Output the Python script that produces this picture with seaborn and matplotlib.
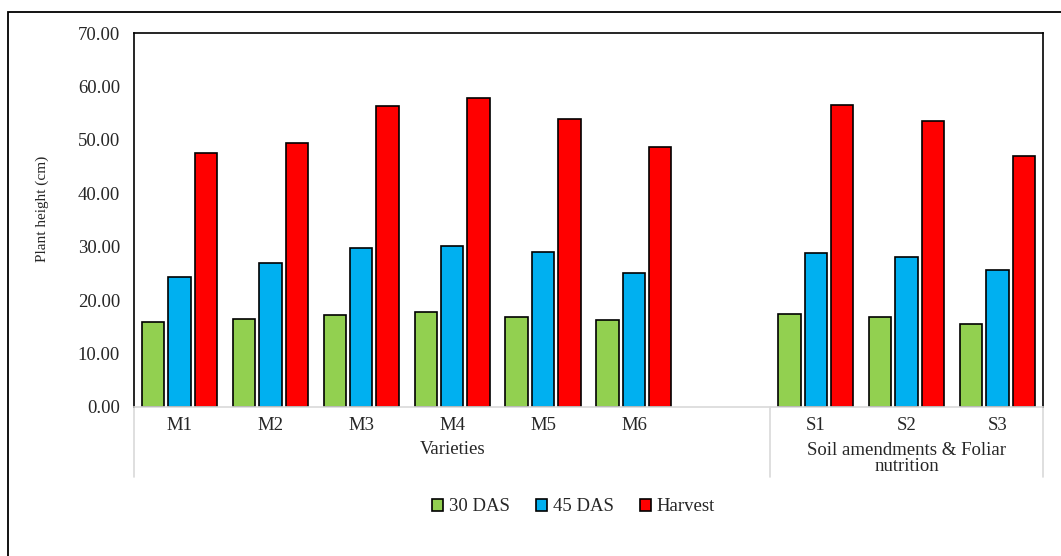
import pandas as pd
import seaborn as sns
import matplotlib.pyplot as plt
from matplotlib.patches import Rectangle

# data
treatments = ["M1", "M2", "M3", "M4", "M5", "M6", "S1", "S2", "S3"]
das30 = [16.0, 16.5, 17.2, 17.7, 16.9, 16.2, 17.5, 16.9, 15.6]
das45 = [24.3, 27.0, 29.7, 30.2, 29.1, 25.0, 28.8, 28.1, 25.7]
harvest = [47.6, 49.4, 56.4, 57.9, 53.9, 48.7, 56.5, 53.6, 46.9]
stages = ["30 DAS", "45 DAS", "Harvest"]
colors = ["#92d050", "#00b0f0", "#ff0000"]

# blank slot between the two groups
order = ["M1", "M2", "M3", "M4", "M5", "M6", " ", "S1", "S2", "S3"]

df = pd.DataFrame({"Treatment": treatments, "30 DAS": das30,
                   "45 DAS": das45, "Harvest": harvest})
df = df.melt(id_vars="Treatment", var_name="Stage", value_name="Height")

sns.set_style("white")
plt.rcParams["font.family"] = ["Liberation Serif", "DejaVu Serif"]
fs = 13.5

fig = plt.figure(figsize=(10.61, 5.56), dpi=100)
ax = fig.add_axes([0.1263, 0.268, 0.8567, 0.6726])

sns.barplot(data=df, x="Treatment", y="Height", hue="Stage", order=order,
            hue_order=stages, palette=colors, saturation=1, width=0.87,
            gap=0.15, errorbar=None, edgecolor="black", linewidth=1.2, ax=ax)

ax.set_xlim(-0.5, 9.5)
ax.set_ylim(0, 70)
ax.set_yticks(range(0, 71, 10))
ax.set_yticklabels([f"{v:.2f}" for v in range(0, 71, 10)], fontsize=fs)
ax.tick_params(axis="y", length=0, pad=10)
ax.tick_params(axis="x", length=0, pad=7, labelsize=fs)
ax.set_xlabel("")
ax.set_ylabel("Plant height (cm)", fontsize=11)
ax.yaxis.set_label_coords(-0.094, 0.53)

for side in ["left", "top", "right"]:
    ax.spines[side].set_color("black")
    ax.spines[side].set_linewidth(1.2)
ax.spines["bottom"].set_color("#d9d9d9")
ax.spines["bottom"].set_linewidth(1.2)

# group separators and group labels
trans = ax.get_xaxis_transform()
for xs in [-0.5, 6.5, 9.5]:
    ax.plot([xs, xs], [0, -0.187], transform=trans, color="#d9d9d9",
            lw=1.2, clip_on=False)
ax.text(3.0, -0.115, "Varieties", transform=trans, ha="center", va="center",
        fontsize=fs)
ax.text(8.0, -0.138, "Soil amendments & Foliar\nnutrition", transform=trans,
        ha="center", va="center", fontsize=fs, linespacing=0.98)

leg = ax.legend(loc="center", bbox_to_anchor=(0.4835, -0.267), ncol=3,
                frameon=False, fontsize=fs, handlelength=0.6,
                handleheight=0.6, handletextpad=0.3, columnspacing=1.4)
for h in leg.legend_handles:
    h.set_edgecolor("black")
    h.set_linewidth(1.2)

# outer chart frame (cut off on right and bottom)
fig.patches.append(Rectangle((8 / 1061, -0.05), 1.2, 1 - 12 / 556 + 0.05,
                             transform=fig.transFigure, fill=False,
                             edgecolor="black", lw=1.3))

fig.savefig("out.png", dpi=100)
